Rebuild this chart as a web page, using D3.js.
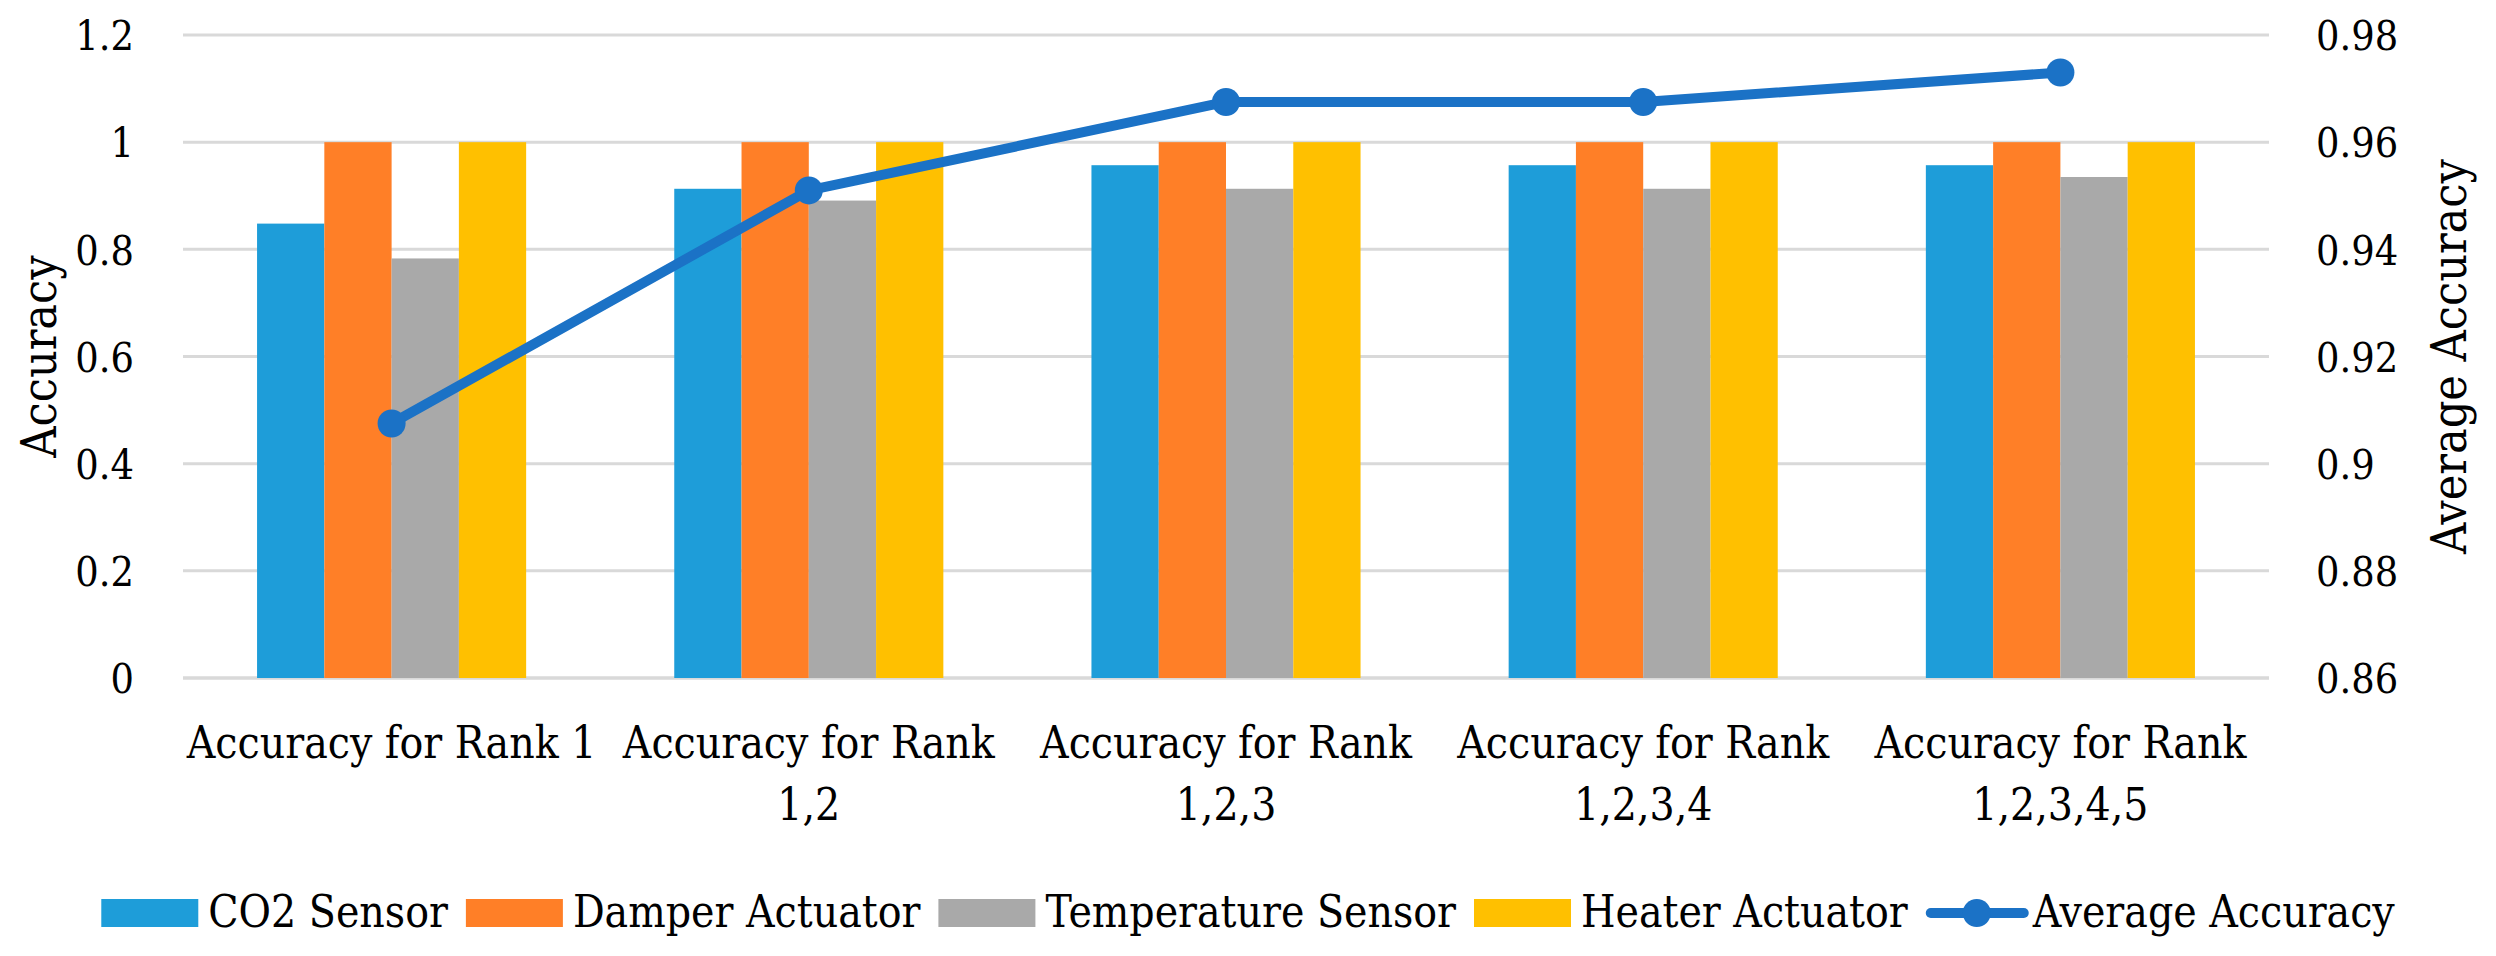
<!DOCTYPE html>
<html>
<head>
<meta charset="utf-8">
<script src="https://cdn.jsdelivr.net/npm/d3@7"></script>
<style>
  body { margin: 0; background: #fff; }
</style>
</head>
<body>
<svg id="chart" width="2496" height="956"></svg>
<script>
// chart data
var categories = ["Rank 1", "Rank 1,2", "Rank 1,2,3", "Rank 1,2,3,4", "Rank 1,2,3,4,5"];
var categoryLabels = [
  ["Accuracy for Rank 1"],
  ["Accuracy for Rank", "1,2"],
  ["Accuracy for Rank", "1,2,3"],
  ["Accuracy for Rank", "1,2,3,4"],
  ["Accuracy for Rank", "1,2,3,4,5"]
];
var seriesNames = ["CO2 Sensor", "Damper Actuator", "Temperature Sensor", "Heater Actuator"];
var co2Sensor = [0.848, 0.913, 0.957, 0.957, 0.957];
var damperActuator = [1, 1, 1, 1, 1];
var temperatureSensor = [0.783, 0.891, 0.913, 0.913, 0.935];
var heaterActuator = [1, 1, 1, 1, 1];
var averageAccuracy = [0.9075, 0.951, 0.9675, 0.9675, 0.973];
var leftTicks = [0, 0.2, 0.4, 0.6, 0.8, 1, 1.2];
var rightTicks = [0.86, 0.88, 0.9, 0.92, 0.94, 0.96, 0.98];

var seriesValues = [co2Sensor, damperActuator, temperatureSensor, heaterActuator];
var colors = ["#1E9DD9", "#FF7F27", "#A9A9A9", "#FFC000"];
var lineColor = "#1B72C6";
var serif = "'DejaVu Serif Condensed', 'DejaVu Serif', serif";

var svg = d3.select("#chart");
var plotLeft = 183, plotRight = 2269, plotTop = 35, plotBottom = 678;

var x0 = d3.scaleBand().domain(categories).range([plotLeft, plotRight])
  .paddingInner(0.355).paddingOuter(0.1775);
var x1 = d3.scaleBand().domain(seriesNames).range([0, x0.bandwidth()]);
var y = d3.scaleLinear().domain([0, 1.2]).range([plotBottom, plotTop]);
var y2 = d3.scaleLinear().domain([0.86, 0.98]).range([plotBottom, plotTop]);

// gridlines
svg.append("g").selectAll("line").data(leftTicks).enter().append("line")
  .attr("x1", plotLeft).attr("x2", plotRight)
  .attr("y1", function(d){ return y(d); })
  .attr("y2", function(d){ return y(d); })
  .attr("stroke", "#D9D9D9")
  .attr("stroke-width", function(d){ return d == 0 ? 3.5 : 3; });

// bars
var groups = svg.append("g").selectAll("g").data(categories).enter().append("g")
  .attr("transform", function(d){ return "translate(" + x0(d) + ",0)"; });
groups.selectAll("rect").data(function(d, i){
    return seriesNames.map(function(s, j){ return {s: s, j: j, v: seriesValues[j][i]}; });
  }).enter().append("rect")
  .attr("x", function(d){ return x1(d.s); })
  .attr("width", x1.bandwidth())
  .attr("y", function(d){ return y(d.v); })
  .attr("height", function(d){ return plotBottom - y(d.v); })
  .attr("fill", function(d){ return colors[d.j]; });

// average line
var lineGen = d3.line()
  .x(function(d, i){ return x0(categories[i]) + x0.bandwidth()/2; })
  .y(function(d){ return y2(d); });
svg.append("path").datum(averageAccuracy)
  .attr("d", lineGen)
  .attr("fill", "none")
  .attr("stroke", lineColor)
  .attr("stroke-width", 10)
  .attr("stroke-linejoin", "round")
  .attr("stroke-linecap", "round");
svg.append("g").selectAll("circle").data(averageAccuracy).enter().append("circle")
  .attr("cx", function(d, i){ return x0(categories[i]) + x0.bandwidth()/2; })
  .attr("cy", function(d){ return y2(d); })
  .attr("r", 14)
  .attr("fill", lineColor);

// axes
var fmt = d3.format("~g");
var leftAxis = svg.append("g").attr("transform", "translate(" + plotLeft + ",0)")
  .call(d3.axisLeft(y).tickValues(leftTicks).tickFormat(fmt).tickSize(0).tickPadding(49));
var rightAxis = svg.append("g").attr("transform", "translate(" + plotRight + ",0)")
  .call(d3.axisRight(y2).tickValues(rightTicks).tickFormat(fmt).tickSize(0).tickPadding(47));
[leftAxis, rightAxis].forEach(function(a){
  a.select(".domain").remove();
  a.attr("font-family", null).attr("font-size", null);
  a.selectAll("text").attr("font-size", 41).attr("dy", "0.36em");
});

var bottomAxis = svg.append("g").attr("transform", "translate(0," + plotBottom + ")")
  .call(d3.axisBottom(x0).tickSize(0).tickFormat(""));
bottomAxis.select(".domain").remove();
bottomAxis.attr("font-family", null).attr("font-size", null);
bottomAxis.selectAll(".tick text").each(function(d, i){
  var t = d3.select(this).attr("y", 0).attr("dy", null).attr("font-size", 44);
  categoryLabels[i].forEach(function(line, k){
    t.append("tspan").attr("x", 0).attr("y", 80 + k*62).text(line);
  });
});

// axis titles
svg.append("text")
  .attr("transform", "translate(56," + (plotTop+plotBottom)/2 + ") rotate(-90)")
  .attr("text-anchor", "middle").attr("font-size", 48)
  .text("Accuracy");
svg.append("text")
  .attr("transform", "translate(2466," + (plotTop+plotBottom)/2 + ") rotate(-90)")
  .attr("text-anchor", "middle").attr("font-size", 48)
  .text("Average Accuracy");

// legend
var legendItems = seriesNames.map(function(s, j){ return {name: s, color: colors[j], line: false}; });
legendItems.push({name: "Average Accuracy", color: lineColor, line: true});
var legend = svg.append("g");
var lx = 0;
legendItems.forEach(function(item){
  var g = legend.append("g").attr("transform", "translate(" + lx + ",0)");
  if (item.line) {
    g.append("line").attr("x1", 5).attr("x2", 98).attr("y1", -14).attr("y2", -14)
      .attr("stroke", item.color).attr("stroke-width", 10).attr("stroke-linecap", "round");
    g.append("circle").attr("cx", 51).attr("cy", -14).attr("r", 14).attr("fill", item.color);
  } else {
    g.append("rect").attr("x", 0).attr("y", -28).attr("width", 97).attr("height", 28)
      .attr("fill", item.color);
  }
  var txt = g.append("text").attr("x", 107).attr("y", 0).attr("font-size", 44)
    .style("font-family", serif).text(item.name);
  lx += 107 + txt.node().getComputedTextLength() + 18;
});
var legendWidth = lx - 18;
legend.attr("transform", "translate(" + ((2496 - legendWidth)/2) + ",927)");

svg.selectAll("text").style("font-family", serif).attr("fill", "#000");
</script>
</body>
</html>
